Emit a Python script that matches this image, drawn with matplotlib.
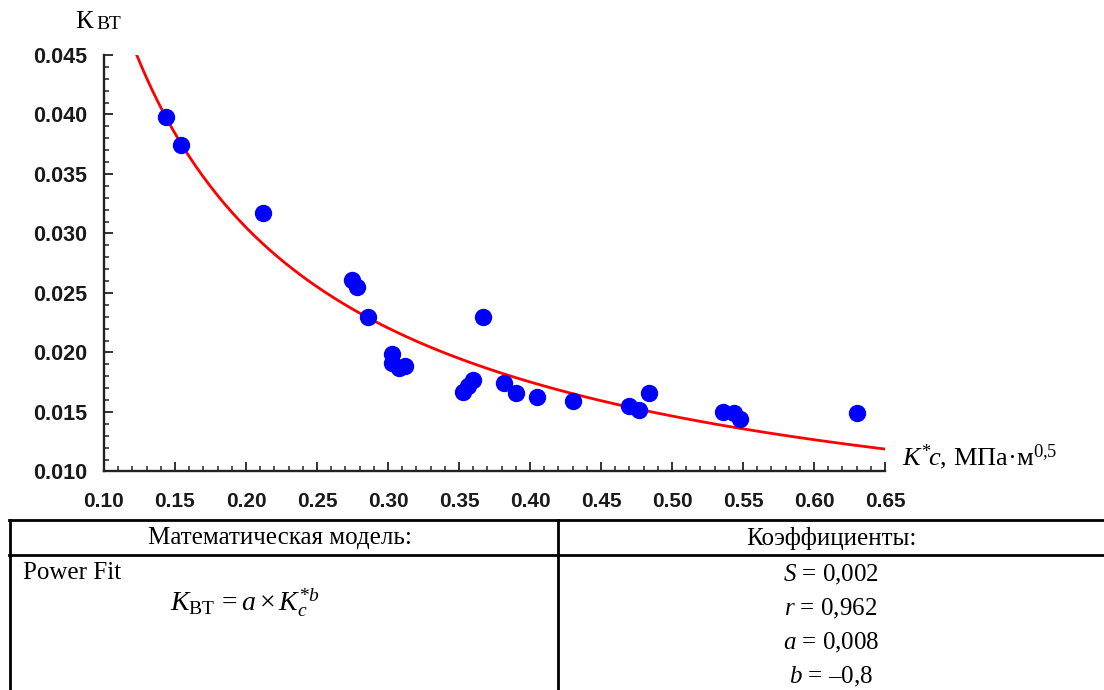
import numpy as np
import matplotlib
matplotlib.use("Agg")
import matplotlib.pyplot as plt
from matplotlib.ticker import MultipleLocator
from matplotlib.lines import Line2D

plt.rcParams['mathtext.fontset'] = 'custom'
plt.rcParams['mathtext.rm'] = 'Liberation Serif'
plt.rcParams['mathtext.it'] = 'Liberation Serif:italic'

# measured points: K*c (MPa*m^0.5) vs K_BT
kc = [0.144, 0.154, 0.212, 0.275, 0.278, 0.286, 0.303, 0.303, 0.308, 0.312,
      0.353, 0.356, 0.360, 0.367, 0.382, 0.390, 0.405, 0.430, 0.470, 0.477,
      0.484, 0.536, 0.544, 0.548, 0.630]
kbt = [0.0398, 0.0374, 0.0317, 0.0261, 0.0255, 0.0230, 0.0199, 0.0191, 0.0187, 0.0189,
       0.0167, 0.0172, 0.0177, 0.0230, 0.0174, 0.0166, 0.0163, 0.0159, 0.0155, 0.0152,
       0.0166, 0.0150, 0.0149, 0.0144, 0.0149]

# power fit K_BT = a * Kc^b
fit_a = 0.00842
fit_b = -0.800
fit_x_start = 0.123
fit_x_end = 0.65

xticks = [0.10, 0.15, 0.20, 0.25, 0.30, 0.35, 0.40, 0.45, 0.50, 0.55, 0.60, 0.65]
yticks = [0.010, 0.015, 0.020, 0.025, 0.030, 0.035, 0.040, 0.045]

header = ["Математическая модель:", "Коэффициенты:"]
coef_lines = [r"$S$ = 0,002", r"$r$ = 0,962", r"$a$ = 0,008", r"$b$ = –0,8"]

fig = plt.figure(figsize=(11.04, 6.90), dpi=100)
ax = fig.add_axes([0.0942, 0.3167, 0.7074, 0.6036])

xs = np.linspace(fit_x_start, fit_x_end, 300)
ax.plot(xs, fit_a * xs ** fit_b, color='red', lw=2.0, zorder=2)
ax.plot(kc, kbt, 'o', color='#0000ff', ms=11.5, mec='#0000ff', zorder=3)

ax.set_xlim(0.10, 0.65)
ax.set_ylim(0.010, 0.045)
ax.set_xticks(xticks)
ax.set_yticks(yticks)
ax.xaxis.set_minor_locator(MultipleLocator(0.01))
ax.yaxis.set_minor_locator(MultipleLocator(0.001))
ax.set_xticklabels(['%.2f' % v for v in xticks])
ax.set_yticklabels(['%.3f' % v for v in yticks])
for sp in ['top', 'right']:
    ax.spines[sp].set_visible(False)
for sp in ['left', 'bottom']:
    ax.spines[sp].set_linewidth(1.7)
    ax.spines[sp].set_color('#222222')
ax.tick_params(which='major', direction='in', length=6.5, width=1.3, color='#222222')
ax.tick_params(which='minor', direction='in', length=3.5, width=1.1, color='#222222')
ax.tick_params(axis='y', which='major', pad=12)
ax.tick_params(axis='x', which='major', pad=15)
for lab in ax.get_yticklabels():
    lab.set_fontsize(15.5)
for lab in ax.get_xticklabels():
    lab.set_fontsize(15)
for lab in ax.get_xticklabels() + ax.get_yticklabels():
    lab.set_fontfamily('Liberation Sans')
    lab.set_fontweight('bold')
    lab.set_color('#1a1a1a')

# axis titles
fig.text(75 / 1104, 1 - 28 / 690, "К", fontsize=19, family='Liberation Serif', va='baseline')
fig.text(96 / 1104, 1 - 29 / 690, "ВТ", fontsize=14, family='Liberation Serif', va='baseline')
fig.text(902 / 1104, 1 - 465 / 690, r"$K^{*}\!c$, МПа·м$^{0{,}5}$", fontsize=19,
         family='Liberation Serif', va='baseline')

# table below the plot (pixel coordinates)
tab = fig.add_axes([0, 0, 1, 1])
tab.set_xlim(0, 1104)
tab.set_ylim(690, 0)
tab.axis('off')
for y in [520, 555]:
    tab.add_line(Line2D([9, 1104], [y, y], color='black', lw=2))
for x in [10, 558]:
    tab.add_line(Line2D([x, x], [520, 690], color='black', lw=2))

tab.text(280, 538, header[0], fontsize=18, family='Liberation Serif', ha='center', va='center')
tab.text(831, 538, header[1], fontsize=18, family='Liberation Serif', ha='center', va='center')
tab.text(23, 573, "Power Fit", fontsize=18, family='Liberation Serif', ha='left', va='center')
tab.text(245, 603, r"$K_{\mathrm{ВТ}}\, = a \times K_{c}^{*b}$", fontsize=20,
         family='Liberation Serif', ha='center', va='center')
for i, s in enumerate(coef_lines):
    tab.text(831, 575 + 34 * i, s, fontsize=18, family='Liberation Serif', ha='center', va='center')

fig.savefig('out.png', dpi=100)
